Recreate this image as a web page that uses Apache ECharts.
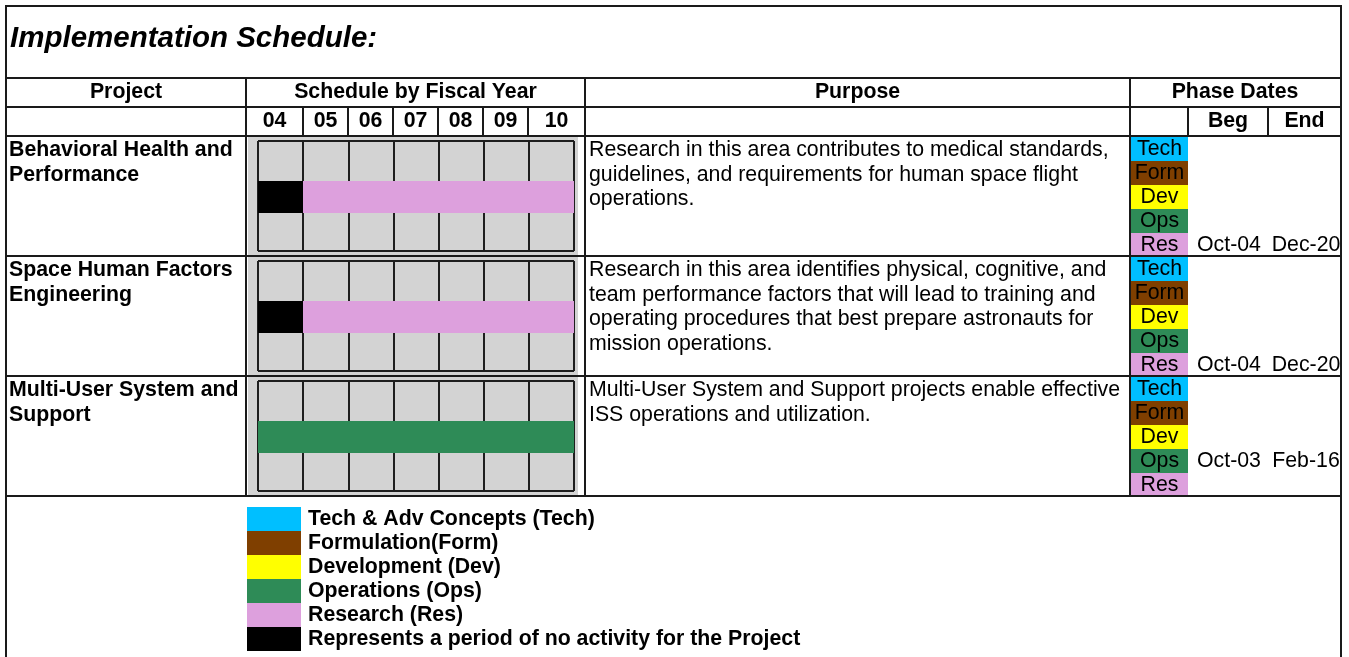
<!DOCTYPE html>
<html><head><meta charset="utf-8">
<script src="https://cdn.jsdelivr.net/npm/echarts@6/dist/echarts.min.js"></script>
<style>html,body{margin:0;padding:0;background:#fff}#c{width:1349px;height:657px}</style>
</head><body><div id="c"></div>
<script>
// ---------------- data ----------------
const title = 'Implementation Schedule:';
const headers = ['Project', 'Schedule by Fiscal Year', 'Purpose', 'Phase Dates'];
const subHeaders = ['Beg', 'End'];
const years = ['04', '05', '06', '07', '08', '09', '10'];
const projects = ['Behavioral Health and\nPerformance', 'Space Human Factors\nEngineering', 'Multi-User System and\nSupport'];
const purposes = [
  'Research in this area contributes to medical standards,\nguidelines, and requirements for human space flight\noperations.',
  'Research in this area identifies physical, cognitive, and\nteam performance factors that will lead to training and\noperating procedures that best prepare astronauts for\nmission operations.',
  'Multi-User System and Support projects enable effective\nISS operations and utilization.'
];
const phaseCodes = ['Tech', 'Form', 'Dev', 'Ops', 'Res'];
const phaseNames = ['Tech & Adv Concepts (Tech)', 'Formulation(Form)', 'Development (Dev)', 'Operations (Ops)', 'Research (Res)'];
const noActivityName = 'Represents a period of no activity for the Project';
// schedule segments (fiscal-year index: 0 = FY04 start, 7 = FY10 end)
const segProject = [0, 0, 1, 1, 2];
const segStart   = [0, 1, 0, 1, 0];
const segEnd     = [1, 7, 1, 7, 7];
const segPhase   = ['None', 'Res', 'None', 'Res', 'Ops'];
const datePhase = ['Res', 'Res', 'Ops'];
const begDates = ['Oct-04', 'Oct-04', 'Oct-03'];
const endDates = ['Dec-20', 'Dec-20', 'Feb-16'];

// ---------------- style ----------------
const phaseKeys = ['Tech', 'Form', 'Dev', 'Ops', 'Res', 'None'];
const phaseColors = ['#00BFFF', '#7F3F00', '#FFFF00', '#2E8B57', '#DDA0DD', '#000000'];
const FONT = '"Liberation Sans", Arial, Helvetica, sans-serif';
const LINE = '#1a1a1a';
const FS = 21.3;
const L = 6, R = 1341;
const rowTops = [136, 256, 376];
const yearEdges = [246, 303, 348, 393, 438, 483, 528, 585];

const g = [];
function line(x1, y1, x2, y2, w) {
  g.push({ type: 'line', shape: { x1, y1, x2, y2 }, style: { stroke: LINE, lineWidth: w || 2 }, z: 10 });
}
function rect(x, y, w, h, fill, z) {
  g.push({ type: 'rect', shape: { x, y, width: w, height: h }, style: { fill }, z: z == null ? 1 : z });
}
function text(str, x, y, size, opts) {
  opts = opts || {};
  g.push({
    type: 'text', z: 20,
    style: {
      text: str, x, y,
      font: (opts.style || '') + ' ' + (opts.bold ? 'bold ' : '') + size + 'px ' + FONT,
      fill: '#000',
      align: opts.align || 'left', textAlign: opts.align || 'left',
      verticalAlign: opts.va || 'middle', textVerticalAlign: opts.va || 'middle',
      lineHeight: opts.lh || size * 1.2
    }
  });
}

// title
text(title, 10, 39, 29.5, { bold: true, style: 'italic' });
// header texts
text(headers[0], 126, 92, FS, { bold: true, align: 'center' });
text(headers[1], 415.5, 92, FS, { bold: true, align: 'center' });
text(headers[2], 857.5, 92, FS, { bold: true, align: 'center' });
text(headers[3], 1235, 92, FS, { bold: true, align: 'center' });
years.forEach((y, i) => text(y, (yearEdges[i] + yearEdges[i + 1]) / 2, 121.5, FS, { bold: true, align: 'center' }));
text(subHeaders[0], 1228, 121.5, FS, { bold: true, align: 'center' });
text(subHeaders[1], 1304.5, 121.5, FS, { bold: true, align: 'center' });

// rows
projects.forEach((p, i) => {
  const top = rowTops[i];
  text(p, 9, top + 2, FS, { bold: true, va: 'top', lh: 25 });
  text(purposes[i], 589, top + 2, FS, { va: 'top', lh: 24.5 });
  // gray pad behind schedule grid
  rect(248, top + 1, 330, 118, '#D3D3D3', -1);
  phaseCodes.forEach((c, k) => {
    const y = top + 1 + 24 * k;
    rect(1131, y, 57, 24, phaseColors[k], 1);
    text(c, 1159.5, y + 12.5, FS, { align: 'center' });
    if (c === datePhase[i]) {
      text(begDates[i], 1229, y + 12.5, FS, { align: 'center' });
      text(endDates[i], 1306, y + 12.5, FS, { align: 'center' });
    }
  });
});

// legend
phaseNames.concat([noActivityName]).forEach((n, k) => {
  rect(247, 507 + 24 * k, 54, 24, phaseColors[k], 1);
  text(n, 308, 519.5 + 24 * k, FS, { bold: true });
});

// table lines
line(L, 6, R, 6);
line(L, 5, L, 657);
line(R, 5, R, 657);
[78, 107, 136, 256, 376, 496].forEach(y => line(L, y, R, y));
[246, 585, 1130].forEach(x => line(x, 78, x, 496));
yearEdges.slice(1, 7).forEach(x => line(x, 107, x, 136));
[1188, 1268].forEach(x => line(x, 107, x, 136));

// ---------------- schedule grids ----------------
const grids = [], xAxes = [], yAxes = [], series = [];
const splitStyle = { show: true, lineStyle: { color: '#1e1e1e', width: 2 } };
projects.forEach((p, i) => {
  grids.push({ left: 258, top: rowTops[i] + 5, width: 316, height: 110, show: true, backgroundColor: '#D3D3D3', borderWidth: 0, containLabel: false });
  xAxes.push({ gridIndex: i, type: 'value', min: 0, max: years.length, interval: 1,
    axisLine: { show: false }, axisTick: { show: false }, axisLabel: { show: false }, splitLine: splitStyle });
  yAxes.push({ gridIndex: i, type: 'value', min: 0, max: 3, interval: 3,
    axisLine: { show: false }, axisTick: { show: false }, axisLabel: { show: false }, splitLine: splitStyle });
  const data = [];
  segProject.forEach((sp, j) => {
    if (sp === i) data.push([segStart[j], segEnd[j], phaseKeys.indexOf(segPhase[j])]);
  });
  series.push({
    type: 'custom', xAxisIndex: i, yAxisIndex: i, data,
    encode: { x: [0, 1] },
    renderItem: function (params, api) {
      const a = api.coord([api.value(0), 1.909]);
      const b = api.coord([api.value(1), 1.036]);
      return { type: 'rect',
        shape: { x: Math.round(a[0]), y: Math.round(a[1]), width: Math.round(b[0] - a[0]), height: Math.round(b[1] - a[1]) },
        style: { fill: phaseColors[api.value(2)] } };
    }
  });
});

const chart = echarts.init(document.getElementById('c'), null, { renderer: 'canvas' });
chart.setOption({
  animation: false,
  backgroundColor: '#fff',
  grid: grids, xAxis: xAxes, yAxis: yAxes, series,
  graphic: { elements: g }
});
</script></body></html>
